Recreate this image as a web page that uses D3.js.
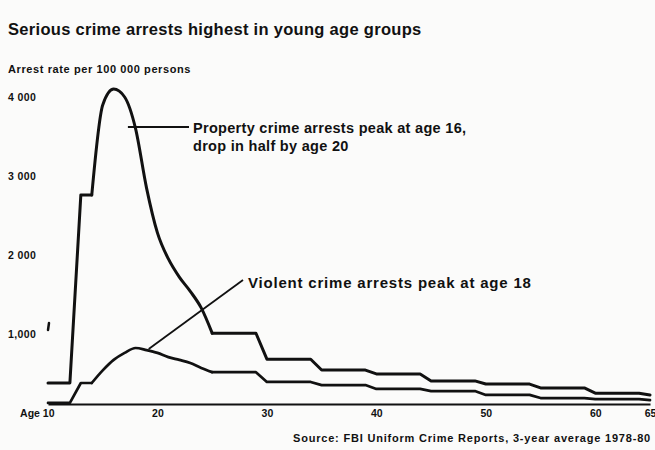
<!DOCTYPE html>
<html lang="en">
<head>
<meta charset="UTF-8">
<title>Serious crime arrests highest in young age groups</title>
<script src="https://cdnjs.cloudflare.com/ajax/libs/d3/7.8.5/d3.min.js"></script>
<style>
    * { margin: 0; padding: 0; box-sizing: border-box; }
    body { background: #fbfbfa; }
    svg text { font-family: 'Liberation Sans', Arial, sans-serif; fill: #111; }
</style>
</head>
<body>
<div id="chart"></div>
<script>
    // Age groups as reported (FBI UCR), with the span of years each one covers
    const ageGroups  = ['10-12', '13-14', '15', '16', '17', '18', '19', '20', '21', '22', '23', '24',
                        '25-29', '30-34', '35-39', '40-44', '45-49', '50-54', '55-59', '60-64', '65+'];
    const groupStart = [10, 13, 15, 16, 17, 18, 19, 20, 21, 22, 23, 24, 25, 30, 35, 40, 45, 50, 55, 60, 65];
    const groupEnd   = [12, 14, 15, 16, 17, 18, 19, 20, 21, 22, 23, 24, 29, 34, 39, 44, 49, 54, 59, 64, 65];

    // Arrest rate per 100 000 persons
    const propertyRate = [300, 2760, 3900, 4100, 4000, 3600, 2850, 2280, 1950, 1720, 1540, 1330,
                          1010, 640, 485, 430, 330, 285, 230, 155, 130];
    const violentRate  = [15, 300, 480, 630, 730, 800, 770, 730, 670, 630, 585, 515,
                          455, 315, 270, 215, 185, 130, 85, 70, 55];

    const yTicks = [1000, 2000, 3000, 4000];
    const yTickLabels = ['1,000', '2 000', '3 000', '4 000'];
    const xTicks = [10, 20, 30, 40, 50, 60, 65];
    const xTickLabels = ['Age 10', '20', '30', '40', '50', '60', '65'];

    const W = 655, H = 450;

    const svg = d3.select('#chart').append('svg')
        .attr('width', W)
        .attr('height', H);

    const x = d3.scaleLinear().domain([10, 65]).range([48, 650]);
    // the axis is broken below 1,000, so that part is squeezed
    const y = d3.scaleLinear().domain([0, 1000, 4000]).range([404, 334, 97]);

    // Title and axis caption
    svg.append('text')
        .attr('x', 8).attr('y', 35)
        .style('font-size', '16.5px').style('font-weight', 'bold')
        .style('letter-spacing', '0.3px')
        .text('Serious crime arrests highest in young age groups');

    svg.append('text')
        .attr('x', 8).attr('y', 73)
        .style('font-size', '11px').style('font-weight', 'bold')
        .style('letter-spacing', '0.6px')
        .text('Arrest rate per 100 000 persons');

    // Y tick labels (no axis line in the original)
    svg.append('g').selectAll('text')
        .data(yTicks)
        .enter()
        .append('text')
        .attr('x', 8)
        .attr('y', d => y(d) + 4)
        .style('font-size', '10.5px').style('font-weight', 'bold')
        .style('letter-spacing', '0.4px')
        .text((d, i) => yTickLabels[i]);

    // axis break mark
    svg.append('path')
        .attr('d', `M49,${y(1000) - 11} L48,${y(1000) - 4}`)
        .attr('stroke', '#111').attr('stroke-width', 2.5).attr('stroke-linecap', 'round');

    // X axis
    const xAxis = svg.append('g')
        .attr('transform', `translate(0,${y(0)})`)
        .call(d3.axisBottom(x).tickValues(xTicks).tickSize(0).tickPadding(6)
            .tickFormat((d, i) => xTickLabels[i]));
    xAxis.select('.domain').attr('stroke', '#111').attr('stroke-width', 2.2);
    xAxis.selectAll('text')
        .style('font-size', '10.5px').style('font-weight', 'bold')
        .style('font-family', "'Liberation Sans', Arial, sans-serif")
        .attr('fill', '#111');
    xAxis.selectAll('.tick').filter(d => d === 10).select('text')
        .attr('text-anchor', 'end').attr('dx', '6');

    // Build the points: flat runs for grouped ages, one point per single year
    function points(values) {
        const pts = [];
        values.forEach((v, i) => {
            pts.push([groupStart[i], v]);
            if (groupEnd[i] !== groupStart[i]) pts.push([groupEnd[i], v]);
        });
        return pts;
    }

    const lineLin = d3.line().x(d => x(d[0])).y(d => y(d[1]));
    const lineSmooth = d3.line().x(d => x(d[0])).y(d => y(d[1])).curve(d3.curveMonotoneX);

    function drawSeries(values, width) {
        const pts = points(values);
        const early = pts.filter(p => p[0] <= 14);
        const middle = pts.filter(p => p[0] >= 14 && p[0] <= 25);
        const late = pts.filter(p => p[0] >= 25);
        [[early, lineLin], [middle, lineSmooth], [late, lineLin]].forEach(([seg, gen]) => {
            svg.append('path')
                .datum(seg)
                .attr('d', gen)
                .attr('fill', 'none')
                .attr('stroke', '#111')
                .attr('stroke-width', width)
                .attr('stroke-linejoin', 'round')
                .attr('stroke-linecap', 'round');
        });
    }

    drawSeries(propertyRate, 3);
    drawSeries(violentRate, 2.7);

    // Annotations
    svg.append('line')
        .attr('x1', x(17.3)).attr('y1', 127).attr('x2', 189).attr('y2', 127)
        .attr('stroke', '#111').attr('stroke-width', 2);
    svg.append('text')
        .attr('x', 193).attr('y', 133)
        .style('font-size', '14.5px').style('font-weight', 'bold')
        .style('letter-spacing', '0.3px')
        .text('Property crime arrests peak at age 16,');
    svg.append('text')
        .attr('x', 193).attr('y', 151)
        .style('font-size', '14.5px').style('font-weight', 'bold')
        .style('letter-spacing', '0.3px')
        .text('drop in half by age 20');

    svg.append('line')
        .attr('x1', x(19.2)).attr('y1', y(770) - 1).attr('x2', 243).attr('y2', 280)
        .attr('stroke', '#111').attr('stroke-width', 1.8);
    svg.append('text')
        .attr('x', 248).attr('y', 288)
        .style('font-size', '15px').style('font-weight', 'bold')
        .style('letter-spacing', '0.8px')
        .text('Violent crime arrests peak at age 18');

    // Source line
    svg.append('text')
        .attr('x', 293).attr('y', 442)
        .style('font-size', '11px').style('font-weight', 'bold')
        .style('letter-spacing', '0.8px')
        .text('Source: FBI Uniform Crime Reports, 3-year average 1978-80');
</script>
</body>
</html>
